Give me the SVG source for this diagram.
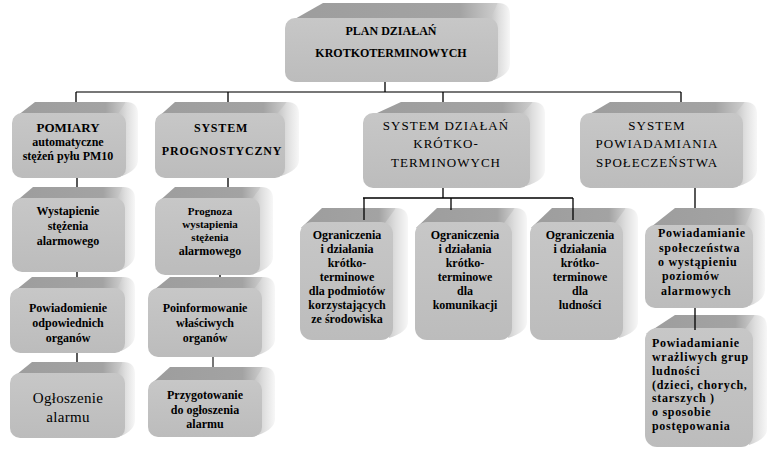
<svg xmlns="http://www.w3.org/2000/svg" width="778" height="454" viewBox="0 0 778 454">
<style>
.front{fill:url(#frontG)}
.top{fill:url(#topG)}
.side{fill:url(#sideG)}
text{font-family:"Liberation Serif","Times New Roman",serif;fill:#000;text-anchor:middle}
.b{font-weight:bold;font-size:12px}
.bl{font-weight:bold;font-size:12px;letter-spacing:0.7px;text-anchor:start}
.r{font-size:13px;letter-spacing:1px}
.c{stroke:#000;stroke-width:1.3;fill:none}
.g{stroke:#777;stroke-width:2;fill:none}
</style>
<defs>
<linearGradient id="frontG" x1="0" y1="0" x2="0" y2="1"><stop offset="0" stop-color="#c7c7c7"/><stop offset="1" stop-color="#bcbcbc"/></linearGradient>
<linearGradient id="topG" x1="0" y1="0" x2="1" y2="0"><stop offset="0" stop-color="#9d9d9d"/><stop offset="0.82" stop-color="#a3a3a3"/><stop offset="1" stop-color="#cfcfcf"/></linearGradient>
<linearGradient id="sideG" x1="0" y1="0" x2="1" y2="0"><stop offset="0" stop-color="#bdbdbd"/><stop offset="0.5" stop-color="#dedede"/><stop offset="1" stop-color="#f7f7f7"/></linearGradient>
</defs>
<rect width="778" height="454" fill="#fff"/>

<g id="plan">
<path class="side" d="M488,18 L498,3 Q510,3 510,15 L510,64 Q510,74 494,80 Z"/>
<path class="top" d="M286,24 L323,3 L498,3 L490,19 Z"/>
<rect class="front" x="285" y="18" width="213" height="64" rx="10"/>
<text class="b" x="391" y="35">PLAN DZIAŁAŃ</text>
<text class="b" x="391" y="57">KROTKOTERMINOWYCH</text>
</g>

<g id="pomiary">
<path class="side" d="M116,113 L126,102 Q138,102 138,114 L138,160 Q138,170 122,176 Z"/>
<path class="top" d="M13,119 L35,102 L126,102 L118,114 Z"/>
<rect class="front" x="12" y="113" width="114" height="65" rx="10"/>
<text class="b" x="68" y="132" style="font-size:13px">POMIARY</text>
<text class="b" x="68" y="146">automatyczne</text>
<text class="b" x="68" y="160">stężeń pyłu PM10</text>
</g>

<g id="prognostyczny">
<path class="side" d="M275,113 L287,102 Q299,102 299,114 L299,160 Q299,170 281,176 Z"/>
<path class="top" d="M156,119 L175,102 L287,102 L277,114 Z"/>
<rect class="front" x="155" y="113" width="130" height="65" rx="10"/>
<text class="b" x="221" y="132" style="letter-spacing:0.8px">SYSTEM</text>
<text class="b" x="222" y="155" style="letter-spacing:0.8px">PROGNOSTYCZNY</text>
</g>

<g id="dzialan">
<path class="side" d="M520,113 L533,102 Q545,102 545,114 L545,170 Q545,180 526,186 Z"/>
<path class="top" d="M364,119 L401,102 L533,102 L522,114 Z"/>
<rect class="front" x="363" y="113" width="167" height="75" rx="10"/>
<text class="r" x="446" y="130">SYSTEM DZIAŁAŃ</text>
<text class="r" x="446" y="148">KRÓTKO-</text>
<text class="r" x="446" y="167">TERMINOWYCH</text>
</g>

<g id="powiadamiania">
<path class="side" d="M733,113 L745,102 Q757,102 757,114 L757,170 Q757,180 739,186 Z"/>
<path class="top" d="M581,119 L610,102 L745,102 L735,114 Z"/>
<rect class="front" x="580" y="113" width="163" height="75" rx="10"/>
<text class="r" x="657" y="130">SYSTEM</text>
<text class="r" x="657" y="148">POWIADAMIANIA</text>
<text class="r" x="657" y="167">SPOŁECZEŃSTWA</text>
</g>

<g id="wystapienie">
<path class="side" d="M115,198 L123,187 Q135,187 135,199 L135,254 Q135,264 121,270 Z"/>
<path class="top" d="M13,204 L33,187 L123,187 L117,199 Z"/>
<rect class="front" x="12" y="198" width="113" height="74" rx="10"/>
<text class="b" x="68" y="215">Wystapienie</text>
<text class="b" x="68" y="230">stężenia</text>
<text class="b" x="68" y="245">alarmowego</text>
</g>

<g id="powiadomienie">
<path class="side" d="M115,288 L123,277 Q135,277 135,289 L135,335 Q135,345 121,351 Z"/>
<path class="top" d="M11,294 L32,277 L123,277 L117,289 Z"/>
<rect class="front" x="10" y="288" width="115" height="65" rx="10"/>
<text class="b" x="68" y="312">Powiadomienie</text>
<text class="b" x="68" y="327">odpowiednich</text>
<text class="b" x="68" y="342">organów</text>
</g>

<g id="ogloszenie">
<path class="side" d="M115,373 L123,362 Q135,362 135,374 L135,420 Q135,430 121,436 Z"/>
<path class="top" d="M11,379 L32,362 L123,362 L117,374 Z"/>
<rect class="front" x="10" y="373" width="115" height="65" rx="10"/>
<text x="68" y="403" style="font-size:15px;letter-spacing:0.3px">Ogłoszenie</text>
<text x="68" y="422" style="font-size:15px;letter-spacing:0.3px">alarmu</text>
</g>

<g id="prognoza">
<path class="side" d="M250,198 L261,187 Q273,187 273,199 L273,257 Q273,267 256,273 Z"/>
<path class="top" d="M156,204 L175,187 L261,187 L252,199 Z"/>
<rect class="front" x="155" y="198" width="105" height="77" rx="10"/>
<text class="b" x="210" y="215" style="font-size:11px">Prognoza</text>
<text class="b" x="210" y="228" style="font-size:11px">wystapienia</text>
<text class="b" x="210" y="241" style="font-size:11px">stężenia</text>
<text class="b" x="210" y="255">alarmowego</text>
</g>

<g id="poinformowanie">
<path class="side" d="M252,288 L263,277 Q275,277 275,289 L275,339 Q275,349 258,355 Z"/>
<path class="top" d="M149,294 L170,277 L263,277 L254,289 Z"/>
<rect class="front" x="148" y="288" width="114" height="69" rx="10"/>
<text class="b" x="205" y="312">Poinformowanie</text>
<text class="b" x="205" y="327">właściwych</text>
<text class="b" x="205" y="342">organów</text>
</g>

<g id="przygotowanie">
<path class="side" d="M252,380 L263,367 Q275,367 275,379 L275,419 Q275,429 258,435 Z"/>
<path class="top" d="M149,386 L170,367 L263,367 L254,381 Z"/>
<rect class="front" x="148" y="380" width="114" height="57" rx="10"/>
<text class="b" x="205" y="399">Przygotowanie</text>
<text class="b" x="205" y="414">do ogłoszenia</text>
<text class="b" x="205" y="428">alarmu</text>
</g>

<g id="ogr-podmioty">
<path class="side" d="M383,222 L396,208 Q408,208 408,220 L408,322 Q408,332 389,338 Z"/>
<path class="top" d="M301,228 L322,208 L396,208 L385,223 Z"/>
<rect class="front" x="300" y="222" width="93" height="118" rx="12"/>
<text class="b" x="347" y="239">Ograniczenia</text>
<text class="b" x="347" y="253">i działania</text>
<text class="b" x="347" y="267">krótko-</text>
<text class="b" x="347" y="281">terminowe</text>
<text class="b" x="347" y="295">dla podmiotów</text>
<text class="b" x="347" y="309">korzystających</text>
<text class="b" x="347" y="323">ze środowiska</text>
</g>

<g id="ogr-komunikacja">
<path class="side" d="M502,222 L515,208 Q527,208 527,220 L527,322 Q527,332 508,338 Z"/>
<path class="top" d="M416,228 L437,208 L515,208 L504,223 Z"/>
<rect class="front" x="415" y="222" width="97" height="118" rx="12"/>
<text class="b" x="465" y="239">Ograniczenia</text>
<text class="b" x="465" y="253">i działania</text>
<text class="b" x="465" y="267">krótko-</text>
<text class="b" x="465" y="281">terminowe</text>
<text class="b" x="465" y="295">dla</text>
<text class="b" x="465" y="309">komunikacji</text>
</g>

<g id="ogr-ludnosc">
<path class="side" d="M613,222 L626,208 Q638,208 638,220 L638,322 Q638,332 619,338 Z"/>
<path class="top" d="M531,228 L552,208 L626,208 L615,223 Z"/>
<rect class="front" x="530" y="222" width="93" height="118" rx="12"/>
<text class="b" x="580" y="239">Ograniczenia</text>
<text class="b" x="580" y="253">i działania</text>
<text class="b" x="580" y="267">krótko-</text>
<text class="b" x="580" y="281">terminowe</text>
<text class="b" x="580" y="295">dla</text>
<text class="b" x="580" y="309">ludności</text>
</g>

<g id="pow-poziomy">
<path class="side" d="M743,225 L753,208 Q765,208 765,220 L765,290 Q765,300 749,306 Z"/>
<path class="top" d="M646,231 L675,208 L753,208 L745,226 Z"/>
<rect class="front" x="645" y="225" width="108" height="83" rx="10"/>
<text class="bl" x="658" y="237">Powiadamianie</text>
<text class="bl" x="659" y="252">społeczeństwa</text>
<text class="bl" x="658" y="266">o wystąpieniu</text>
<text class="bl" x="662" y="280">poziomów</text>
<text class="bl" x="661" y="295">alarmowych</text>
</g>

<g id="pow-grupy">
<path class="side" d="M743,328 L755,315 Q767,315 767,327 L767,429 Q767,439 749,445 Z"/>
<path class="top" d="M646,334 L675,315 L755,315 L745,329 Z"/>
<rect class="front" x="645" y="328" width="108" height="119" rx="12"/>
<text class="bl" x="652" y="347">Powiadamianie</text>
<text class="bl" x="652" y="361">wrażliwych grup</text>
<text class="bl" x="652" y="375">ludności</text>
<text class="bl" x="652" y="389">(dzieci, chorych,</text>
<text class="bl" x="652" y="402">starszych )</text>
<text class="bl" x="652" y="416">o sposobie</text>
<text class="bl" x="652" y="430">postępowania</text>
</g>

<g id="connectors">
<path class="g" d="M76,92 H681"/>
<path class="c" d="M385,82 V92 M76,92 V102 M228,92 V102 M443,92 V102 M681,92 V102"/>
<path class="c" d="M77,178 V187 M228,178 V187"/>
<path class="c" d="M77,272 V277 M220,275 V277"/>
<path class="c" d="M77,353 V362"/>
<path class="g" d="M213,357 V367"/>
<path class="c" d="M443,188 V198 M363,198 H573 M364,198 V220 M451,198 V210 M573,198 V220"/>
<path class="c" d="M695,188 V208 M695,308 V330"/>
</g>
</svg>
